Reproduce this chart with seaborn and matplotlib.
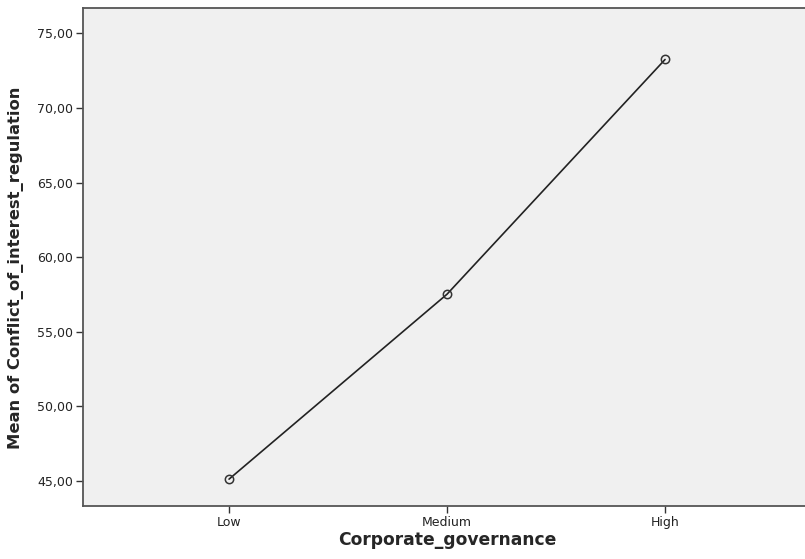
import pandas as pd
import seaborn as sns
import matplotlib.pyplot as plt
from matplotlib.ticker import FuncFormatter

categories = ['Low', 'Medium', 'High']
mean_values = [45.13, 57.52, 73.24]
y_ticks = [45, 50, 55, 60, 65, 70, 75]

df = pd.DataFrame({'Corporate_governance': categories,
                   'Mean': mean_values})

sns.set_theme(style="white")
plt.rcParams['font.family'] = ['DejaVu Sans']

fig = plt.figure(figsize=(8.05, 5.59), dpi=100)
ax = fig.add_axes([0.1031, 0.0948, 0.8969, 0.8909])
ax.set_facecolor('#f0f0f0')

sns.lineplot(
    data=df,
    x='Corporate_governance',
    y='Mean',
    marker='o',
    markersize=6,
    markerfacecolor='none',
    markeredgecolor='#333333',
    markeredgewidth=1.1,
    color='#222222',
    linewidth=1.2,
    ax=ax
)

ax.set_xlim(-0.670, 2.642)
ax.set_ylim(43.33, 76.69)
ax.set_yticks(y_ticks)
ax.yaxis.set_major_formatter(FuncFormatter(lambda v, p: f"{v:.2f}".replace('.', ',')))

for side in ['top', 'left', 'bottom']:
    ax.spines[side].set_color('#555555')
    ax.spines[side].set_linewidth(1.3)
ax.spines['right'].set_visible(False)

ax.tick_params(axis='both', which='major', direction='out', length=5, width=1,
               color='#333333', labelsize=9, labelcolor='#222222',
               left=True, bottom=True, pad=2)

ax.set_xlabel('Corporate_governance', fontsize=12.3, fontweight='bold')
ax.set_ylabel('Mean of Conflict_of_interest_regulation', fontsize=11.8,
              fontweight='bold')
ax.xaxis.set_label_coords(0.505, -0.050)
ax.yaxis.set_label_coords(-0.0817, 0.478)

fig.savefig('out.png', dpi=100)
